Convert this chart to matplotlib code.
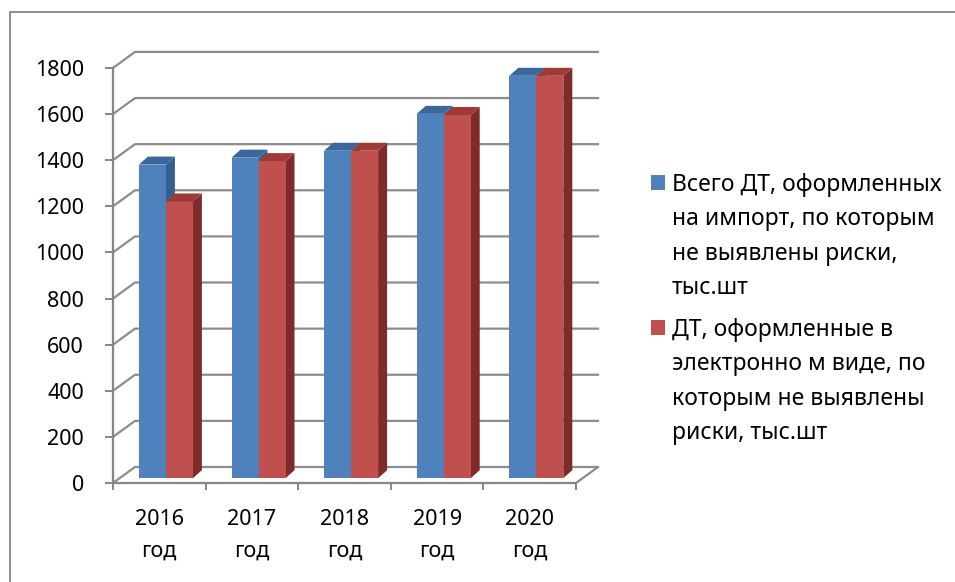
import matplotlib
matplotlib.use("Agg")
import matplotlib.pyplot as plt
from matplotlib.patches import Polygon, Rectangle

plt.rcParams['font.family'] = ['Noto Sans', 'DejaVu Sans']

# данные
years = ['2016\nгод', '2017\nгод', '2018\nгод', '2019\nгод', '2020\nгод']
vsego_dt = [1360, 1390, 1420, 1580, 1745]
elektron_dt = [1200, 1375, 1420, 1575, 1745]
legend_labels = ['Всего ДТ, оформленных\nна импорт, по которым\nне выявлены риски,\nтыс.шт',
                 'ДТ, оформленные в\nэлектронно м виде, по\nкоторым не выявлены\nриски, тыс.шт']
y_ticks = [0, 200, 400, 600, 800, 1000, 1200, 1400, 1600, 1800]

front_cols = ['#4F81BD', '#C0504D']
top_cols = ['#3A679E', '#9E3B38']
side_cols = ['#365E8E', '#7E2B29']
grid_col = '#8C8C8C'

W, H = 955, 582
fig = plt.figure(figsize=(W / 100, H / 100), dpi=100)

# пиксели -> единицы данных
px_cat = 92.6      # пикселей на категорию
px_val = 0.2306    # пикселей на единицу значения
x_left, y_floor = 113, 483
Dx, Dy = 22 / px_cat, 16 / px_val      # глубина стенок
bx, by = 9 / px_cat, 8 / px_val        # глубина столбика
f = 0.3                                # смещение столбиков вглубь
bw = 27 / px_cat

n = len(years)
ytop = 1800 + Dy + 20
ax_w = (n + Dx) * px_cat
ax_h = ytop * px_val
ax = fig.add_axes([x_left / W, (H - y_floor) / H, ax_w / W, ax_h / H])
ax.set_xlim(-0.5, n - 0.5 + Dx)
ax.set_ylim(0, ytop)

# стенки и сетка
for v in y_ticks:
    ax.plot([-0.5, -0.5 + Dx, n - 0.5 + Dx], [v, v + Dy, v + Dy],
            color=grid_col, lw=1.6, zorder=1, clip_on=False)
ax.plot([n - 0.5, n - 0.5 + Dx], [0, Dy], color=grid_col, lw=1.6, zorder=1)

# столбики
for i in range(n):
    vals = [vsego_dt[i], elektron_dt[i]]
    for j in range(2):
        x = i + f * Dx - bw + j * bw
        b = f * Dy
        h = vals[j]
        z = 3 + j
        ax.bar(x, h, width=bw, bottom=b, align='edge', color=front_cols[j],
               linewidth=0, zorder=z)
        ax.add_patch(Polygon([(x, b + h), (x + bw, b + h), (x + bw + bx, b + h + by),
                              (x + bx, b + h + by)], closed=True,
                             facecolor=top_cols[j], edgecolor='none', zorder=z))
        ax.add_patch(Polygon([(x + bw, b), (x + bw + bx, b + by), (x + bw + bx, b + h + by),
                              (x + bw, b + h)], closed=True,
                             facecolor=side_cols[j], edgecolor='none', zorder=z - 0.5))

for s in ['top', 'right']:
    ax.spines[s].set_visible(False)
for s in ['left', 'bottom']:
    ax.spines[s].set_color('#868686')
    ax.spines[s].set_linewidth(1.6)
    ax.spines[s].set_zorder(2)
ax.spines['left'].set_bounds(0, 1800)
ax.spines['bottom'].set_bounds(-0.5, n - 0.5)

ax.set_yticks(y_ticks)
ax.tick_params(axis='y', length=6, width=1.4, color='#868686', pad=15, labelsize=15.5)
ax.set_xticks(range(n))
ax.set_xticklabels(years, fontsize=15.5, linespacing=1.65)
ax.tick_params(axis='x', which='major', length=0, pad=19)
ax.set_xticks([k - 0.5 for k in range(n + 1)], minor=True)
ax.tick_params(axis='x', which='minor', length=5, width=1.4, color='#868686')
ax.patch.set_visible(False)

# легенда
leg_y = [182, 327]
for k in range(2):
    yc = leg_y[k]
    fig.patches.append(Rectangle((651 / W, (H - yc - 7.5) / H), 14 / W, 14.5 / H,
                                 transform=fig.transFigure, facecolor=front_cols[k],
                                 edgecolor='none'))
    fig.text(672 / W, (H - yc + 9) / H, legend_labels[k], fontsize=16.5, va='top',
             ha='left', linespacing=1.57, transform=fig.transFigure)

# рамка
fig.patches.append(Rectangle((10 / W, -0.05), 1.1, (H - 12) / H + 0.05,
                             transform=fig.transFigure, facecolor='none',
                             edgecolor='#868686', lw=1.3))

fig.savefig('out.png', dpi=100)
